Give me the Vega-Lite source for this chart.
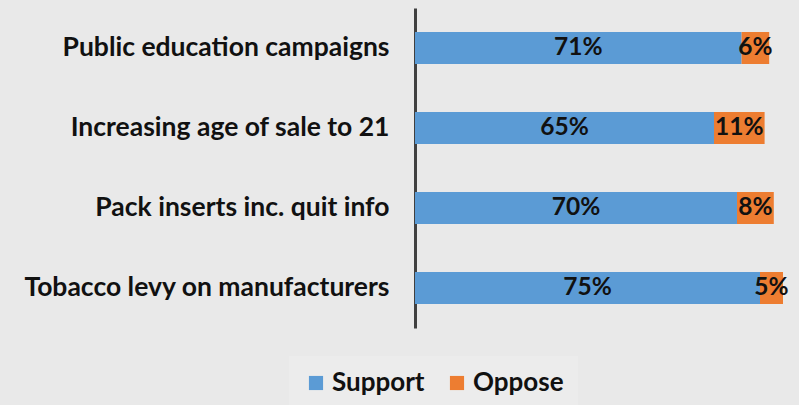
{
  "$schema": "https://vega.github.io/schema/vega-lite/v6.json",
  "width": 368,
  "height": 320,
  "autosize": {"type": "none"},
  "padding": {"left": 415, "top": 8, "right": 16, "bottom": 77},
  "background": "#e9e9e9",
  "config": {
    "view": {"stroke": null},
    "font": "Lato"
  },
  "data": {
    "values": [
      {"policy": "Public education campaigns", "response": "Support", "k": 1, "value": 0.71},
      {"policy": "Public education campaigns", "response": "Oppose", "k": 2, "value": 0.06},
      {"policy": "Increasing age of sale to 21", "response": "Support", "k": 1, "value": 0.65},
      {"policy": "Increasing age of sale to 21", "response": "Oppose", "k": 2, "value": 0.11},
      {"policy": "Pack inserts inc. quit info", "response": "Support", "k": 1, "value": 0.70},
      {"policy": "Pack inserts inc. quit info", "response": "Oppose", "k": 2, "value": 0.08},
      {"policy": "Tobacco levy on manufacturers", "response": "Support", "k": 1, "value": 0.75},
      {"policy": "Tobacco levy on manufacturers", "response": "Oppose", "k": 2, "value": 0.05}
    ]
  },
  "encoding": {
    "y": {
      "field": "policy",
      "type": "nominal",
      "sort": null,
      "scale": {"paddingInner": 0.6, "paddingOuter": 0.3},
      "axis": {
        "title": null,
        "ticks": false,
        "domainColor": "#404040",
        "domainWidth": 3,
        "labelFont": "Lato",
        "labelFontWeight": "bold",
        "labelFontSize": 26.5,
        "labelColor": "#111111",
        "labelPadding": 26,
        "labelLimit": 420
      }
    },
    "x": {
      "field": "value",
      "type": "quantitative",
      "stack": "zero",
      "scale": {"domain": [0, 0.8], "nice": false},
      "axis": null
    },
    "order": {"field": "k", "type": "quantitative"}
  },
  "layer": [
    {
      "mark": {"type": "bar"},
      "encoding": {
        "color": {
          "field": "response",
          "type": "nominal",
          "scale": {"domain": ["Support", "Oppose"], "range": ["#5B9BD5", "#ED7D31"]},
          "legend": {
            "title": null,
            "orient": "none",
            "direction": "horizontal",
            "legendX": -126,
            "legendY": 348,
            "symbolType": "square",
            "symbolSize": 200,
            "symbolStrokeWidth": 0,
            "labelFont": "Lato",
            "labelFontWeight": "bold",
            "labelFontSize": 26,
            "labelColor": "#111111",
            "labelOffset": 3,
            "columnPadding": 19,
            "padding": 14,
            "fillColor": "#ececec"
          }
        }
      }
    },
    {
      "mark": {"type": "text", "font": "Lato", "fontWeight": "bold", "fontSize": 24.5, "color": "#111111", "baseline": "middle"},
      "encoding": {
        "x": {"field": "value", "type": "quantitative", "stack": "zero", "bandPosition": 0.5},
        "text": {"field": "value", "type": "quantitative", "format": ".0%"}
      }
    }
  ]
}
